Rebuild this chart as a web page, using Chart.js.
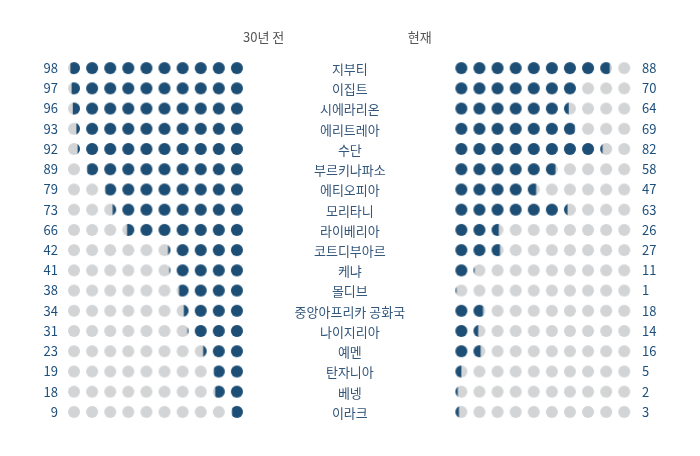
<!DOCTYPE html>
<html>
<head>
<meta charset="utf-8">
<script src="https://cdn.jsdelivr.net/npm/chart.js@4"></script>
<style>
html,body{margin:0;padding:0;background:#fff;}
#wrap{width:700px;height:456px;position:relative;}
</style>
</head>
<body>
<div id="wrap"><canvas id="c"></canvas></div>
<script>
const countries = ["지부티","이집트","시에라리온","에리트레아","수단","부르키나파소","에티오피아","모리타니","라이베리아","코트디부아르","케냐","몰디브","중앙아프리카 공화국","나이지리아","예멘","탄자니아","베넹","이라크"];
const past = [98,97,96,93,92,89,79,73,66,42,41,38,34,31,23,19,18,9];
const present = [88,70,64,69,82,58,47,63,26,27,11,1,18,14,16,5,2,3];
const headers = ["30년 전","현재"];

const DARK = "#1d4f76";
const GREY = "#d3d4d6";
const FONT = "'Noto Sans CJK KR','Noto Sans',sans-serif";

const RIGHT_OFFSET = 21.4;
const LABEL_X = 15.24;
const HEADER_X = [10.48, 19.1];

const cache = {};
function dotStyle(frac, fromRight) {
  const key = frac.toFixed(3) + (fromRight ? "R" : "L");
  if (cache[key]) return cache[key];
  const s = 14, r = 6, c = s / 2;
  const cv = document.createElement("canvas");
  cv.width = s; cv.height = s;
  const g = cv.getContext("2d");
  g.fillStyle = GREY;
  g.beginPath(); g.arc(c, c, r, 0, Math.PI * 2); g.fill();
  if (frac > 0) {
    g.save();
    const w = 2 * r * frac;
    g.beginPath();
    if (fromRight) g.rect(c + r - w, 0, w, s);
    else g.rect(c - r, 0, w, s);
    g.clip();
    g.fillStyle = DARK;
    g.beginPath(); g.arc(c, c, r, 0, Math.PI * 2); g.fill();
    g.restore();
  }
  cache[key] = cv;
  return cv;
}

const leftPts = [], leftStyles = [], rightPts = [], rightStyles = [];
past.forEach((v, row) => {
  for (let i = 0; i < 10; i++) {
    const f = Math.max(0, Math.min(1, v / 10 - (9 - i)));
    leftPts.push({x: i, y: row});
    leftStyles.push(dotStyle(f, true));
  }
});
present.forEach((v, row) => {
  for (let i = 0; i < 10; i++) {
    const f = Math.max(0, Math.min(1, v / 10 - i));
    rightPts.push({x: RIGHT_OFFSET + i, y: row});
    rightStyles.push(dotStyle(f, false));
  }
});

const textPlugin = {
  id: "texts",
  afterDatasetsDraw(chart) {
    const ctx = chart.ctx, xs = chart.scales.x, ys = chart.scales.yL;
    ctx.save();
    ctx.textAlign = "center";
    ctx.textBaseline = "middle";
    ctx.font = "13px " + FONT;
    ctx.fillStyle = "#34577c";
    countries.forEach((name, row) => {
      ctx.fillText(name, xs.getPixelForValue(LABEL_X), ys.getPixelForValue(row) + 1);
    });
    ctx.fillStyle = "#555";
    headers.forEach((h, k) => {
      ctx.fillText(h, xs.getPixelForValue(HEADER_X[k]), 37);
    });
    ctx.restore();
  }
};

function rowTicks(s) { s.ticks = countries.map((_, i) => ({value: i})); }
function tickText(arr) {
  return function (v) { const i = Math.round(v); return arr[i] !== undefined ? String(arr[i]) : ""; };
}

const yCommon = {
  type: "linear", min: -0.5, max: 17.5, reverse: true,
  grid: {display: false, drawTicks: false}, border: {display: false},
  afterBuildTicks: rowTicks,
  afterFit(s) { s.width = 64; }
};

new Chart(document.getElementById("c"), {
  type: "scatter",
  data: {
    datasets: [
      {data: leftPts, pointStyle: leftStyles, pointRadius: 6, pointHoverRadius: 6, yAxisID: "yL"},
      {data: rightPts, pointStyle: rightStyles, pointRadius: 6, pointHoverRadius: 6, yAxisID: "yL"}
    ]
  },
  options: {
    responsive: true, maintainAspectRatio: false, animation: false,
    events: [],
    layout: {padding: {top: 58, bottom: 34, left: 0, right: 0}},
    plugins: {legend: {display: false}, tooltip: {enabled: false}},
    scales: {
      x: {type: "linear", min: -0.552, max: 31.05, display: false},
      yL: Object.assign({}, yCommon, {
        position: "left",
        ticks: {autoSkip: false, padding: 6, color: "#1d4f7c", font: {size: 13, family: FONT}, callback: tickText(past)}
      }),
      yR: Object.assign({}, yCommon, {
        position: "right",
        ticks: {autoSkip: false, padding: 6, color: "#1d4f7c", font: {size: 13, family: FONT}, callback: tickText(present)}
      })
    }
  },
  plugins: [textPlugin]
});
</script>
</body>
</html>
